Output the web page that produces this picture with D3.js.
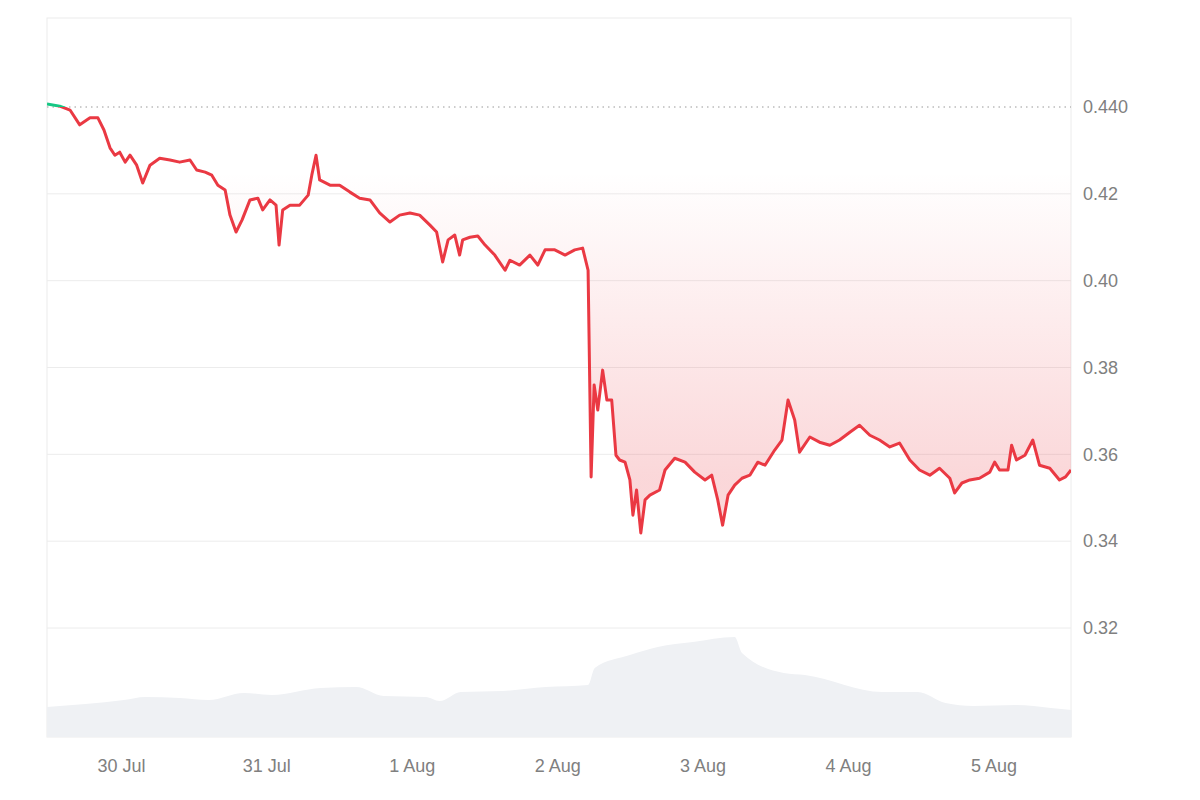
<!DOCTYPE html>
<html><head><meta charset="utf-8">
<script src="https://cdn.jsdelivr.net/npm/d3@7"></script>
<style>body{margin:0;background:#fff}svg{display:block}</style></head>
<body><svg id="c" width="1200" height="800"></svg>
<script>
// hours since 30 Jul 00:00
const priceHours=[-12.2,-10.1,-8.4,-6.8,-5.1,-3.8,-2.8,-1.8,-1.0,-0.2,0.7,1.5,2.6,3.6,4.8,6.4,8.1,9.7,11.4,12.5,13.9,15.0,16.0,17.2,18.0,19.0,20.0,21.3,22.6,23.4,24.6,25.6,26.1,26.7,27.9,29.5,30.9,31.5,32.2,32.8,34.5,36.1,37.8,39.4,41.1,42.7,44.4,46.0,47.7,49.3,51.0,52.1,53.1,54.0,55.1,55.9,56.4,57.6,58.9,60.1,61.7,63.4,64.2,65.8,67.5,68.8,70.0,71.6,73.3,74.9,76.2,77.1,77.6,78.1,78.7,79.5,80.2,81.0,81.7,82.3,83.2,84.0,84.5,85.1,85.8,86.5,87.3,88.9,89.8,91.4,93.1,94.7,96.4,97.5,98.5,99.3,100.2,101.3,102.5,103.8,105.1,106.3,107.9,109.1,110.1,111.2,112.0,113.7,115.3,117.0,118.6,120.3,121.9,123.6,125.2,126.9,128.5,130.2,131.8,133.5,135.1,136.8,137.6,138.8,140.1,141.7,143.4,144.2,145.0,146.4,147.0,147.8,149.2,150.5,151.6,153.3,154.9,155.9,156.8];
const prices=[0.4407,0.4402,0.4393,0.4359,0.4375,0.4375,0.4347,0.4306,0.4289,0.4296,0.4273,0.4289,0.4266,0.4225,0.4266,0.4282,0.4278,0.4273,0.4278,0.4255,0.4250,0.4243,0.4220,0.4209,0.4151,0.4112,0.4140,0.4186,0.4190,0.4163,0.4186,0.4174,0.4082,0.4163,0.4174,0.4174,0.4197,0.4243,0.4289,0.4232,0.4220,0.4220,0.4204,0.4190,0.4186,0.4156,0.4135,0.4151,0.4156,0.4151,0.4128,0.4112,0.4043,0.4094,0.4105,0.4059,0.4094,0.4100,0.4103,0.4082,0.4059,0.4024,0.4047,0.4036,0.4059,0.4036,0.4071,0.4071,0.4059,0.4071,0.4075,0.4024,0.3548,0.3760,0.3702,0.3794,0.3725,0.3725,0.3598,0.3587,0.3582,0.3541,0.3460,0.3518,0.3419,0.3495,0.3506,0.3518,0.3564,0.3591,0.3582,0.3559,0.3541,0.3552,0.3495,0.3437,0.3506,0.3529,0.3545,0.3552,0.3582,0.3575,0.3610,0.3633,0.3725,0.3679,0.3605,0.3640,0.3628,0.3621,0.3633,0.3651,0.3667,0.3644,0.3633,0.3617,0.3626,0.3587,0.3564,0.3552,0.3568,0.3545,0.3511,0.3534,0.3541,0.3545,0.3559,0.3582,0.3564,0.3564,0.3621,0.3587,0.3598,0.3633,0.3575,0.3568,0.3541,0.3548,0.3564];
const volHours=[-12.2,0.5,4.0,9.7,14.5,20.3,24.9,33.0,38.8,43.4,50.3,52.6,56.1,63.0,70.1,77.1,78.2,84.0,88.6,94.4,101.3,102.5,109.4,112.9,125.7,131.5,136.1,140.7,147.7,153.5,156.9];
const volumes=[30,37,40,39,37,44,42,49,50,41,40,36,45,46,50,52,69,82,90,95,100,84,64,62,45,45,34,31,32,29,27];
const yTicks=[0.32,0.34,0.36,0.38,0.40,0.42,0.440];
const yTickLabels=["0.32","0.34","0.36","0.38","0.40","0.42","0.440"];
const dayLabels=["30 Jul","31 Jul","1 Aug","2 Aug","3 Aug","4 Aug","5 Aug"];
const baseline=0.440;

const t0=new Date(2024,6,30);
const toDate=h=>new Date(t0.getTime()+h*3600e3);
const L=47,R=1071,T=18,B=737;
const svg=d3.select("#c");
const x=d3.scaleTime().domain([toDate(-12.2),toDate(156.8)]).range([L,R]);
const y=d3.scaleLinear().domain([0.2949,0.4605]).range([B,T]);
const yv=d3.scaleLinear().domain([0,100]).range([B,B-100]);
const pts=priceHours.map((h,i)=>({d:toDate(h),v:prices[i]}));
const vpts=volHours.map((h,i)=>({d:toDate(h),v:volumes[i]}));

const defs=svg.append("defs");
const g=defs.append("linearGradient").attr("id","rg").attr("gradientUnits","userSpaceOnUse")
 .attr("x1",0).attr("x2",0).attr("y1",y(0.425)).attr("y2",y(0.355));
g.append("stop").attr("offset",0).attr("stop-color","#ea3943").attr("stop-opacity",0);
g.append("stop").attr("offset",1).attr("stop-color","#ea3943").attr("stop-opacity",0.2);
defs.append("clipPath").attr("id","above").append("rect").attr("x",L).attr("y",0).attr("width",R-L).attr("height",y(baseline));
defs.append("clipPath").attr("id","below").append("rect").attr("x",L).attr("y",y(baseline)).attr("width",R-L).attr("height",B-y(baseline));

svg.append("rect").attr("x",L).attr("y",T).attr("width",R-L).attr("height",B-T).attr("fill","none").attr("stroke","#ececec");
svg.selectAll(".gl").data(yTicks.filter(v=>v!==baseline)).join("line")
 .attr("x1",L).attr("x2",R).attr("y1",d=>y(d)).attr("y2",d=>y(d)).attr("stroke","#ececec");
svg.append("path").datum(vpts).attr("fill","#eff1f4")
 .attr("d",d3.area().x(d=>x(d.d)).y0(B).y1(d=>yv(d.v)).curve(d3.curveMonotoneX));
svg.append("path").datum(pts).attr("fill","url(#rg)").attr("clip-path","url(#below)")
 .attr("d",d3.area().x(d=>x(d.d)).y0(y(baseline)).y1(d=>y(d.v)));
svg.append("line").attr("x1",L).attr("x2",R).attr("y1",y(baseline)).attr("y2",y(baseline))
 .attr("stroke","#999").attr("stroke-dasharray","1.5,4");
const line=d3.line().x(d=>x(d.d)).y(d=>y(d.v));
svg.append("path").datum(pts).attr("fill","none").attr("stroke","#ea3943").attr("stroke-width",3).attr("stroke-linejoin","round").attr("clip-path","url(#below)").attr("d",line);
svg.append("path").datum(pts).attr("fill","none").attr("stroke","#16c784").attr("stroke-width",3).attr("stroke-linejoin","round").attr("clip-path","url(#above)").attr("d",line);
const ya=svg.append("g").attr("transform",`translate(${R},0)`).call(d3.axisRight(y).tickValues(yTicks).tickFormat((d,i)=>yTickLabels[i]).tickSize(0).tickPadding(12));
ya.select(".domain").remove();
ya.selectAll("text").attr("font-family","'Liberation Sans', Arial, sans-serif").attr("font-size",18).attr("fill","#808080");
const xa=svg.append("g").attr("transform",`translate(0,${B})`).call(d3.axisBottom(x).tickValues(dayLabels.map((_,i)=>toDate(24*i))).tickFormat((d,i)=>dayLabels[i]).tickSize(0).tickPadding(22));
xa.select(".domain").remove();
xa.selectAll("text").attr("font-family","'Liberation Sans', Arial, sans-serif").attr("font-size",18).attr("fill","#808080");
</script></body></html>
